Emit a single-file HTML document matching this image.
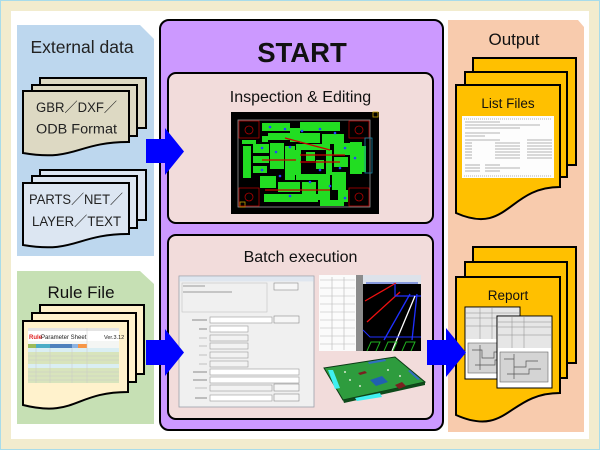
<!DOCTYPE html>
<html><head><meta charset="utf-8"><style>
html,body{margin:0;padding:0;width:600px;height:450px;overflow:hidden;background:#fff}
svg{display:block}
text{font-family:"Liberation Sans","Noto Sans CJK JP",sans-serif}
</style></head><body>
<svg width="600" height="450" viewBox="0 0 600 450" xmlns="http://www.w3.org/2000/svg">
<!-- frame -->
<rect x="0" y="0" width="600" height="450" fill="#a8dcea"/>
<rect x="1" y="1" width="598" height="448" fill="#f2ecce"/>
<rect x="11" y="11" width="578" height="428" fill="#ffffff"/>

<!-- panels -->
<polygon points="17,25 140,25 154,39 154,256 17,256" fill="#bdd7ee"/>
<polygon points="17,271 140,271 154,284 154,424 17,424" fill="#c6e0b4"/>
<polygon points="448,20 578,20 584,27 584,432 448,432" fill="#f8cbad"/>

<text x="82" y="53" font-size="17.5" text-anchor="middle" fill="#222">External data</text>
<text x="81" y="298" font-size="17" text-anchor="middle" fill="#111">Rule File</text>
<text x="514" y="45" font-size="17" text-anchor="middle" fill="#111">Output</text>

<!-- GBR docs -->
<g stroke="#000" stroke-width="2" fill="#ddd9c3">
<rect x="40" y="78" width="106" height="50"/>
<rect x="32" y="85" width="105" height="51"/>
<path d="M23 91 H129 V142 C76 142 76 162 23 153 Z"/>
</g>
<text x="36" y="112" font-size="13.5" textLength="81" lengthAdjust="spacingAndGlyphs" fill="#222">GBR／DXF／</text>
<text x="36" y="133.5" font-size="13.5" textLength="81" lengthAdjust="spacingAndGlyphs" fill="#222">ODB Format</text>

<!-- PARTS docs -->
<g stroke="#000" stroke-width="2" fill="#dce6f2">
<rect x="40" y="170" width="106" height="50"/>
<rect x="32" y="176" width="105" height="52"/>
<path d="M23 183 H129 V234 C76 234 76 254 23 245 Z"/>
</g>
<text x="29" y="204" font-size="13.5" textLength="94" lengthAdjust="spacingAndGlyphs" fill="#222">PARTS／NET／</text>
<text x="32" y="226" font-size="13.5" textLength="89" lengthAdjust="spacingAndGlyphs" fill="#222">LAYER／TEXT</text>

<!-- Rule docs -->
<g stroke="#000" stroke-width="2" fill="#fff2cc">
<rect x="40" y="305" width="104" height="69"/>
<rect x="32" y="313" width="104" height="69"/>
<path d="M23 321 H128 V392 C75 392 75 418 23 405 Z"/>
</g>
<!-- spreadsheet -->
<g>
<rect x="28" y="328" width="91" height="55" fill="#f4f6f4"/>
<rect x="28" y="328" width="91" height="3" fill="#e4e4e4"/>
<rect x="28" y="331" width="91" height="10" fill="#ffffff"/>
<text x="29" y="339" font-size="6" fill="#e02020" font-weight="bold">Rule</text>
<text x="41" y="339" font-size="6" fill="#222">Parameter Sheet</text>
<text x="104" y="339" font-size="5.5" fill="#222">Ver.3.12</text>
<rect x="28" y="344" width="8" height="4" fill="#9bbb59"/>
<rect x="36" y="344" width="14" height="4" fill="#4bacc6"/>
<rect x="50" y="344" width="22" height="4" fill="#4f81bd"/>
<rect x="72" y="344" width="6" height="4" fill="#8db3e2"/>
<rect x="78" y="344" width="9" height="4" fill="#f79646"/>
<rect x="28" y="348" width="91" height="4" fill="#daeef3"/>
<rect x="28" y="352" width="91" height="12" fill="#d8e4bc"/>
<rect x="28" y="364" width="91" height="4" fill="#daeef3"/>
<rect x="28" y="368" width="91" height="15" fill="#d8e4bc"/>
<g stroke="#c8c8c8" stroke-width="0.5">
<line x1="28" y1="356" x2="119" y2="356"/><line x1="28" y1="360" x2="119" y2="360"/>
<line x1="28" y1="372" x2="119" y2="372"/><line x1="28" y1="376" x2="119" y2="376"/><line x1="28" y1="380" x2="119" y2="380"/>
<line x1="36" y1="348" x2="36" y2="383"/><line x1="50" y1="348" x2="50" y2="383"/><line x1="72" y1="348" x2="72" y2="383"/><line x1="87" y1="328" x2="87" y2="383"/>
</g>
</g>

<!-- START panel -->
<rect x="160" y="20" width="283" height="410" rx="9" fill="#cc99ff" stroke="#000" stroke-width="2"/>
<text x="302" y="62" font-size="27.5" font-weight="bold" text-anchor="middle" fill="#111">START</text>
<rect x="168" y="73" width="265" height="150" rx="8" fill="#f2dcdb" stroke="#000" stroke-width="2"/>
<text x="300.5" y="102" font-size="16" text-anchor="middle" fill="#111">Inspection &amp; Editing</text>
<rect x="168" y="235" width="265" height="184" rx="8" fill="#f2dcdb" stroke="#000" stroke-width="2"/>
<text x="300.5" y="262" font-size="16" text-anchor="middle" fill="#111">Batch execution</text>

<!-- PCB image -->
<g>
<rect x="231" y="112" width="148" height="102" fill="#000"/>
<rect x="238" y="120" width="132" height="87" fill="none" stroke="#9a9a9a" stroke-width="0.8"/>
<rect x="373" y="112" width="5" height="5" fill="none" stroke="#c8a000" stroke-width="0.8"/>
<rect x="240" y="202" width="5" height="5" fill="none" stroke="#c8a000" stroke-width="0.8"/>
<g fill="none" stroke="#b00000" stroke-width="0.8">
<rect x="239" y="121" width="20" height="17"/><rect x="349" y="121" width="20" height="17"/>
<rect x="239" y="188" width="20" height="18"/><rect x="349" y="188" width="20" height="18"/>
<circle cx="249" cy="130" r="4"/><circle cx="359" cy="130" r="4"/><circle cx="249" cy="197" r="4"/><circle cx="359" cy="197" r="4"/>
</g>
<g fill="#22dd22">
<rect x="262" y="123" width="28" height="8"/><rect x="300" y="122" width="40" height="9"/>
<rect x="268" y="133" width="27" height="7"/><rect x="290" y="128" width="10" height="14"/>
<rect x="300" y="133" width="20" height="10"/><rect x="322" y="134" width="22" height="10"/>
<rect x="243" y="146" width="8" height="32"/><rect x="253" y="144" width="16" height="9"/>
<rect x="253" y="156" width="16" height="7"/><rect x="253" y="166" width="14" height="7"/>
<rect x="270" y="143" width="14" height="26"/><rect x="285" y="146" width="10" height="34"/>
<rect x="296" y="144" width="34" height="6"/><rect x="295" y="150" width="6" height="25"/>
<rect x="326" y="150" width="6" height="25"/><rect x="296" y="174" width="34" height="6"/>
<rect x="334" y="143" width="16" height="12"/><rect x="334" y="157" width="14" height="10"/>
<rect x="350" y="142" width="12" height="32"/><rect x="360" y="146" width="6" height="26"/>
<rect x="260" y="176" width="16" height="12"/><rect x="278" y="182" width="22" height="10"/>
<rect x="302" y="182" width="14" height="14"/><rect x="318" y="178" width="12" height="22"/>
<rect x="332" y="172" width="14" height="18"/><rect x="338" y="190" width="10" height="12"/>
<rect x="264" y="194" width="54" height="8"/><rect x="320" y="200" width="24" height="6"/>
<rect x="306" y="152" width="9" height="9"/><rect x="316" y="160" width="8" height="9"/>
<rect x="262" y="136" width="6" height="6"/><rect x="242" y="140" width="14" height="4"/>
</g>
<g stroke="#cc0000" stroke-width="1.2">
<line x1="300" y1="155" x2="345" y2="155"/><line x1="300" y1="162" x2="340" y2="162"/>
<line x1="265" y1="190" x2="330" y2="190"/><line x1="285" y1="138" x2="330" y2="150"/>
<line x1="262" y1="160" x2="296" y2="160"/>
</g>
<g fill="#2244ff">
<circle cx="270" cy="127" r="1.3"/><circle cx="285" cy="129" r="1.3"/><circle cx="302" cy="131" r="1.3"/><circle cx="320" cy="129" r="1.3"/>
<circle cx="335" cy="133" r="1.3"/><circle cx="262" cy="148" r="1.3"/><circle cx="276" cy="152" r="1.3"/><circle cx="290" cy="147" r="1.3"/>
<circle cx="345" cy="148" r="1.3"/><circle cx="355" cy="158" r="1.3"/><circle cx="262" cy="170" r="1.3"/><circle cx="280" cy="176" r="1.3"/>
<circle cx="310" cy="182" r="1.3"/><circle cx="330" cy="186" r="1.3"/><circle cx="290" cy="196" r="1.3"/><circle cx="345" cy="198" r="1.3"/>
<circle cx="320" cy="170" r="1.3"/><circle cx="340" cy="168" r="1.3"/>
</g>
<rect x="365" y="138" width="7" height="35" fill="none" stroke="#1a8aaa" stroke-width="0.8"/>
</g>

<!-- dialog -->
<g>
<rect x="179" y="276" width="135" height="131" fill="#f0f0f0" stroke="#9aa0aa" stroke-width="0.8"/>
<rect x="179.4" y="276.4" width="134.2" height="5" fill="#dfe6ef"/>
<rect x="182" y="283" width="85" height="29" fill="none" stroke="#c4c4c4" stroke-width="0.6"/>
<line x1="183" y1="286" x2="205" y2="286" stroke="#9a9a9a" stroke-width="1"/>
<line x1="183" y1="292" x2="232" y2="292" stroke="#9a9a9a" stroke-width="1"/>
<rect x="274" y="283" width="24" height="7" fill="#f6f6f6" stroke="#8a8a8a" stroke-width="0.6"/>
<g fill="#fff" stroke="#9a9a9a" stroke-width="0.6">
<rect x="210" y="317" width="62" height="6"/>
<rect x="210" y="326" width="38" height="6"/>
<rect x="210" y="335" width="38" height="6" fill="#f2f2f2"/>
<rect x="210" y="343" width="38" height="6" fill="#f2f2f2"/>
<rect x="210" y="352" width="38" height="6" fill="#f2f2f2"/>
<rect x="210" y="361" width="38" height="6" fill="#f2f2f2"/>
<rect x="210" y="369" width="89" height="6"/>
<rect x="210" y="377" width="89" height="6"/>
<rect x="210" y="385" width="62" height="6" fill="#f2f2f2"/>
<rect x="210" y="395" width="62" height="6"/>
</g>
<g fill="#f6f6f6" stroke="#8a8a8a" stroke-width="0.6">
<rect x="274" y="316" width="25" height="7"/>
<rect x="274" y="384" width="25" height="7"/>
<rect x="274" y="394" width="25" height="7"/>
</g>
<g stroke="#8a8a8a" stroke-width="1">
<line x1="192" y1="320" x2="207" y2="320"/><line x1="199" y1="329" x2="207" y2="329"/>
<line x1="199" y1="338" x2="207" y2="338" stroke="#c0c0c0"/><line x1="199" y1="346" x2="207" y2="346" stroke="#c0c0c0"/>
<line x1="199" y1="355" x2="207" y2="355" stroke="#c0c0c0"/><line x1="199" y1="364" x2="207" y2="364" stroke="#c0c0c0"/>
<line x1="193" y1="372" x2="207" y2="372"/><line x1="193" y1="380" x2="207" y2="380"/>
<line x1="195" y1="388" x2="207" y2="388" stroke="#c0c0c0"/><line x1="195" y1="398" x2="207" y2="398"/>
</g>
</g>

<!-- table / CAD -->
<g>
<rect x="319" y="275" width="37" height="76" fill="#fbfbfb"/>
<g stroke="#b8b8b8" stroke-width="0.6">
<line x1="320" y1="280" x2="355" y2="280"/><line x1="320" y1="288" x2="355" y2="288"/><line x1="320" y1="296" x2="355" y2="296"/>
<line x1="320" y1="304" x2="355" y2="304"/><line x1="320" y1="312" x2="355" y2="312"/><line x1="320" y1="320" x2="355" y2="320"/>
<line x1="320" y1="328" x2="355" y2="328"/><line x1="320" y1="336" x2="355" y2="336"/><line x1="320" y1="344" x2="355" y2="344"/>
<line x1="332" y1="277" x2="332" y2="350"/><line x1="344" y1="277" x2="344" y2="350"/>
</g>
<rect x="356" y="275" width="7" height="76" fill="#8c8c8c"/>
<rect x="363" y="275" width="58" height="76" fill="#000"/>
<rect x="363" y="275" width="58" height="9" fill="#dde2ea"/>
<line x1="366" y1="283" x2="418" y2="283" stroke="#3050d0" stroke-width="1"/>
<line x1="365" y1="301" x2="396" y2="283" stroke="#ee1010" stroke-width="1.3"/>
<line x1="367" y1="322" x2="400" y2="292" stroke="#ee1010" stroke-width="1.3"/>
<polyline points="395,284 395,296 421,296" fill="none" stroke="#2030ff" stroke-width="1.2"/>
<line x1="410" y1="294" x2="384" y2="340" stroke="#2030ff" stroke-width="1.3"/>
<line x1="417" y1="294" x2="412" y2="340" stroke="#2030ff" stroke-width="1.3"/>
<line x1="415" y1="296" x2="392" y2="351" stroke="#ffffff" stroke-width="1.3"/>
<polyline points="363,330 370,337 421,337" fill="none" stroke="#2030ff" stroke-width="1"/>
<g fill="none" stroke="#20b020" stroke-width="1">
<path d="M367 351 L371 342 L380 342 L376 351"/><path d="M384 351 L388 342 L397 342 L393 351"/><path d="M402 351 L406 342 L415 342 L411 351"/>
</g>
</g>

<!-- 3D PCB -->
<g>
<polygon points="324,368 395,357 425,382 343,400" fill="#2e9c3e" stroke="#0c3a16" stroke-width="1"/>
<polygon points="343,400 425,382 425,385 344,403" fill="#0e4a1a"/>
<polygon points="328,370 333,370 340,388 335,389" fill="#40f0f0"/>
<polygon points="355,398 380,393 382,397 357,401" fill="#40f0f0"/>
<polygon points="368,362 385,359 386,361 369,364" fill="#3070c0"/>
<polygon points="410,370 420,379 418,380 408,371" fill="#3070c0"/>
<polygon points="370,380 382,376 388,382 376,386" fill="#2060b0"/>
<polygon points="395,385 402,382 406,386 399,389" fill="#7a2020"/>
<polygon points="358,373 365,371 367,373 360,375" fill="#7a2020"/>
<g fill="#d8e8d0"><circle cx="350" cy="380" r="1"/><circle cx="360" cy="386" r="1"/><circle cx="388" cy="370" r="1"/><circle cx="400" cy="376" r="1"/><circle cx="345" cy="372" r="1"/></g>
</g>

<!-- Output: List Files -->
<g stroke="#000" stroke-width="2" fill="#ffc000">
<rect x="473" y="58" width="103" height="107"/>
<rect x="465" y="72" width="102" height="105"/>
<path d="M456 85 H560 V187 C508 187 508 236 456 213 Z"/>
</g>
<text x="508" y="108" font-size="13.5" text-anchor="middle" fill="#111">List Files</text>
<rect x="462" y="116" width="92" height="62" fill="#fdfdfd"/>
<g stroke="#9a9a9a" stroke-width="0.8">
<line x1="464" y1="119" x2="552" y2="119" stroke-dasharray="1 1"/>
<line x1="465" y1="122" x2="500" y2="122"/><line x1="465" y1="125" x2="540" y2="125"/><line x1="465" y1="128" x2="520" y2="128"/>
<line x1="465" y1="133" x2="500" y2="133"/><line x1="465" y1="136" x2="485" y2="136"/>
<line x1="465" y1="140" x2="500" y2="140"/><line x1="527" y1="140" x2="552" y2="140"/>
<line x1="465" y1="143" x2="472" y2="143"/><line x1="495" y1="143" x2="520" y2="143"/><line x1="527" y1="143" x2="552" y2="143"/>
<line x1="465" y1="146" x2="472" y2="146"/><line x1="495" y1="146" x2="520" y2="146"/><line x1="527" y1="146" x2="552" y2="146"/>
<line x1="465" y1="149" x2="472" y2="149"/><line x1="495" y1="149" x2="520" y2="149"/><line x1="527" y1="149" x2="552" y2="149"/>
<line x1="465" y1="152" x2="472" y2="152"/><line x1="495" y1="152" x2="520" y2="152"/><line x1="527" y1="152" x2="552" y2="152"/>
<line x1="465" y1="155" x2="472" y2="155"/><line x1="495" y1="155" x2="520" y2="155"/><line x1="527" y1="155" x2="552" y2="155"/>
<line x1="465" y1="158" x2="472" y2="158"/><line x1="495" y1="158" x2="520" y2="158"/><line x1="527" y1="158" x2="552" y2="158"/>
<line x1="465" y1="165" x2="480" y2="165"/><line x1="485" y1="165" x2="500" y2="165"/>
<line x1="465" y1="168" x2="480" y2="168"/><line x1="485" y1="168" x2="520" y2="168"/>
<line x1="465" y1="171" x2="480" y2="171"/><line x1="485" y1="171" x2="500" y2="171"/>
<line x1="464" y1="176" x2="552" y2="176" stroke-dasharray="1 1"/>
</g>

<!-- Output: Report -->
<g stroke="#000" stroke-width="2" fill="#ffc000">
<rect x="473" y="247" width="103" height="116"/>
<rect x="465" y="262" width="102" height="116"/>
<path d="M456 277 H560 V393 C508 393 508 438 456 415 Z"/>
</g>
<text x="508" y="300" font-size="13.5" text-anchor="middle" fill="#111">Report</text>
<g>
<rect x="465" y="307" width="55" height="72" fill="#fff" stroke="#000" stroke-width="1"/>
<rect x="466" y="308" width="53" height="31" fill="#e6e6e6"/>
<g stroke="#8a8a8a" stroke-width="0.5"><line x1="466" y1="313" x2="519" y2="313"/><line x1="466" y1="318" x2="519" y2="318"/><line x1="466" y1="326" x2="519" y2="326"/><line x1="480" y1="308" x2="480" y2="339"/><line x1="492" y1="308" x2="492" y2="339"/></g>
<rect x="468" y="343" width="42" height="30" fill="#d4d4d4" stroke="#666" stroke-width="0.6"/>
<g stroke="#555" stroke-width="0.7" fill="none"><path d="M472 350 h10 v8 h12 v-6 h10 M475 365 h20 v-5 h10 M480 345 v25"/></g>
<rect x="497" y="316" width="55" height="72" fill="#fff" stroke="#000" stroke-width="1"/>
<rect x="498" y="317" width="53" height="31" fill="#e6e6e6"/>
<g stroke="#8a8a8a" stroke-width="0.5"><line x1="498" y1="322" x2="551" y2="322"/><line x1="498" y1="327" x2="551" y2="327"/><line x1="498" y1="335" x2="551" y2="335"/><line x1="512" y1="317" x2="512" y2="348"/><line x1="524" y1="317" x2="524" y2="348"/></g>
<rect x="500" y="352" width="48" height="30" fill="#d4d4d4" stroke="#666" stroke-width="0.6"/>
<g stroke="#555" stroke-width="0.7" fill="none"><path d="M504 359 h10 v8 h12 v-6 h12 M507 374 h22 v-5 h12 M514 354 v25"/></g>
</g>

<!-- arrows -->
<g fill="#0000ff">
<polygon points="146,139 165,139 165,128 184,151.5 165,175 165,163 146,163"/>
<polygon points="146,340 165,340 165,329 184,352.5 165,376 165,365 146,365"/>
<polygon points="427,340 446,340 446,328 466,352.5 446,377 446,365 427,365"/>
</g>
</svg>
</body></html>
